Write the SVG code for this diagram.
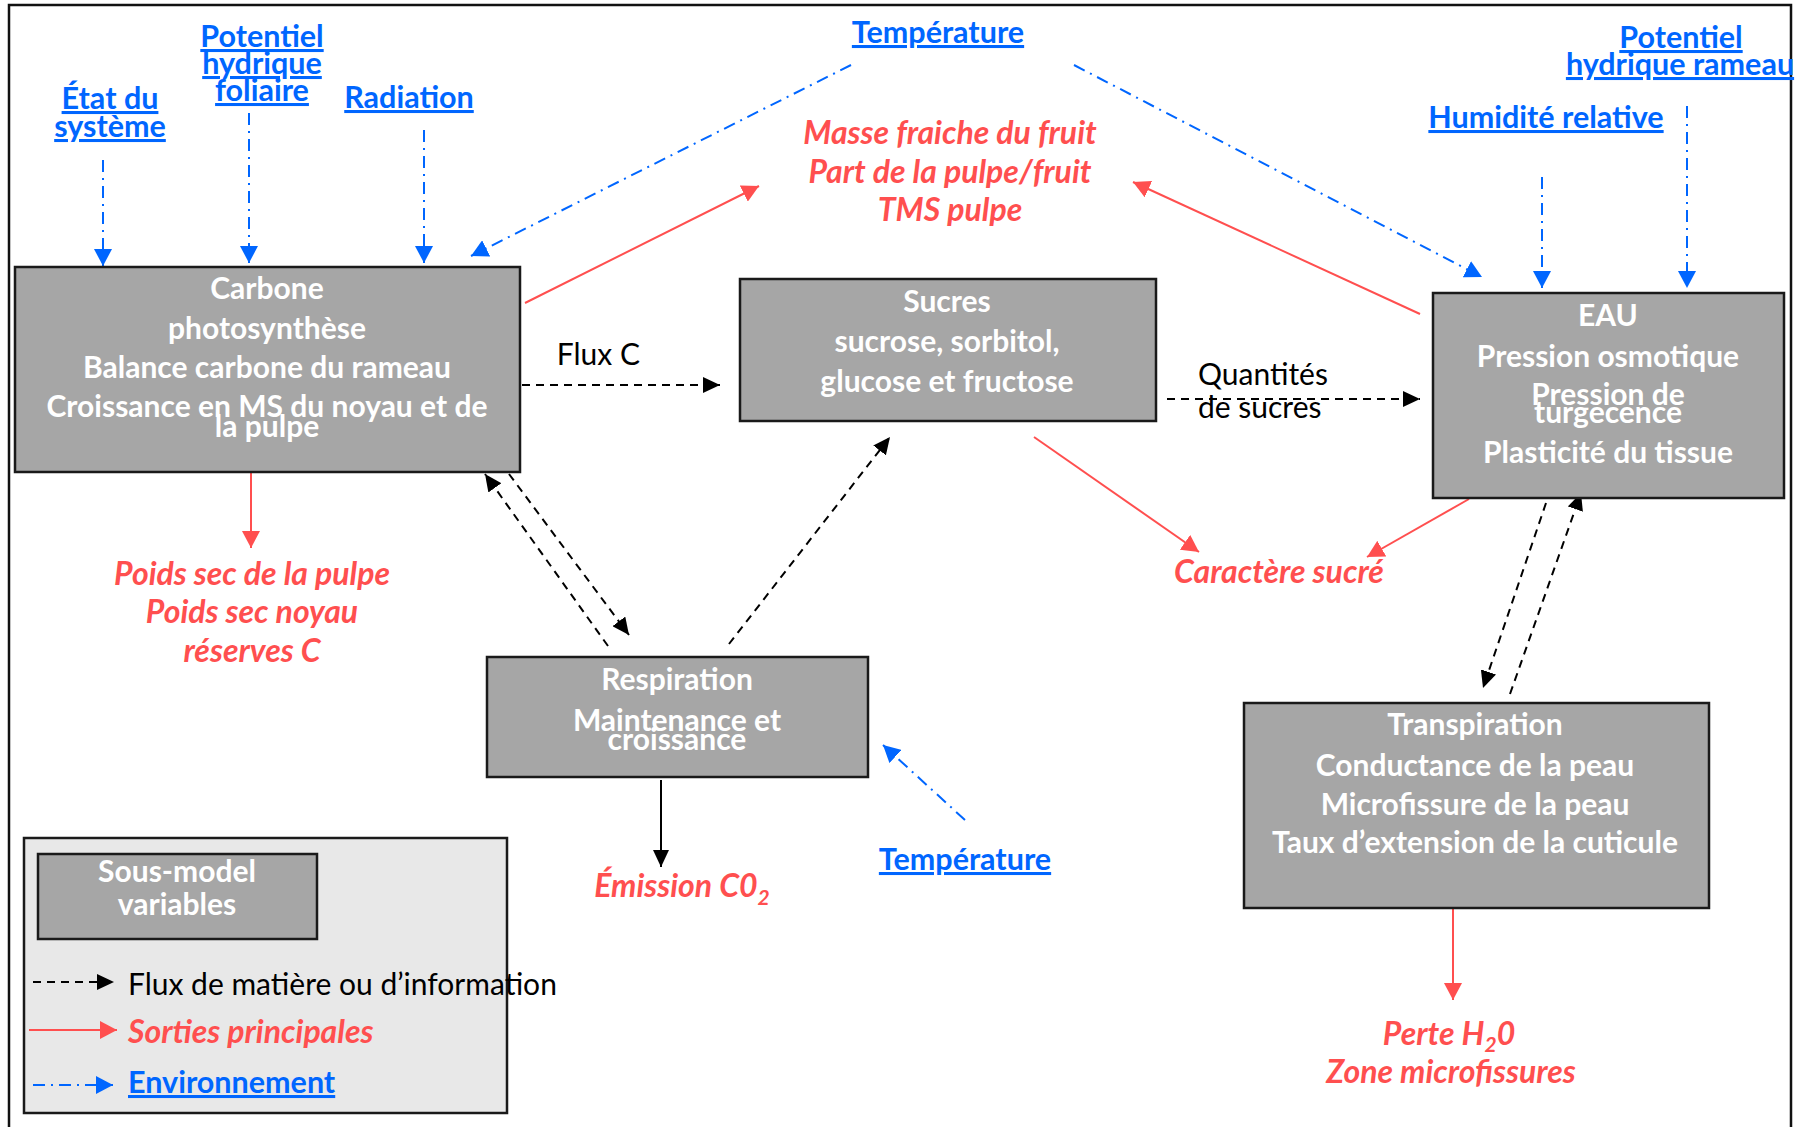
<svg xmlns="http://www.w3.org/2000/svg" width="1798" height="1127" viewBox="0 0 1798 1127">
<style>
 text { font-family: Lato, 'Liberation Sans', sans-serif; font-size: 30px; }
 .w { fill: #ffffff; font-weight: 700; text-anchor: middle; }
 .r { fill: #ff4f4f; font-weight: 700; font-style: italic; text-anchor: middle; font-size: 32px; }
 .b { fill: #0066ff; font-weight: 700; text-anchor: middle; text-decoration: underline; font-size: 30.5px; }
 .k { fill: #000000; font-weight: 400; }
 .st { text-anchor: start; }
 .box { fill: #a6a6a6; stroke: #1a1a1a; stroke-width: 2.5; }
 .cb { stroke: #0066ff; stroke-width: 2; stroke-dasharray: 12 6 2 6; fill: none; marker-end: url(#ab); }
 .cr { stroke: #ff4f4f; stroke-width: 2; fill: none; marker-end: url(#ar); }
 .ck { stroke: #000000; stroke-width: 2; stroke-dasharray: 8 6; fill: none; marker-end: url(#ak); }
 .cs { stroke: #000000; stroke-width: 2; fill: none; marker-end: url(#ak); }
</style>
<defs>
 <marker id="ak" markerUnits="userSpaceOnUse" markerWidth="18" markerHeight="16" refX="17" refY="8" orient="auto"><path d="M0,0 L17,8 L0,16 z" fill="#000000"/></marker>
 <marker id="ab" markerUnits="userSpaceOnUse" markerWidth="18" markerHeight="18" refX="17" refY="9" orient="auto"><path d="M0,0 L17,9 L0,18 z" fill="#0066ff"/></marker>
 <marker id="ar" markerUnits="userSpaceOnUse" markerWidth="18" markerHeight="18" refX="17" refY="9" orient="auto"><path d="M0,0 L17,9 L0,18 z" fill="#ff4f4f"/></marker>
</defs>
<rect width="1798" height="1127" fill="#ffffff"/>
<path d="M9,1127 V5 H1791 V1127" fill="none" stroke="#111111" stroke-width="2.5"/>

<g id="connectors">
 <line class="cb" x1="103" y1="160" x2="103" y2="266"/>
 <line class="cb" x1="249" y1="113" x2="249" y2="263"/>
 <line class="cb" x1="424" y1="130" x2="424" y2="263"/>
 <line class="cb" x1="851" y1="65" x2="471" y2="256"/>
 <line class="cb" x1="1074" y1="65" x2="1482" y2="277"/>
 <line class="cb" x1="1542" y1="177" x2="1542" y2="288"/>
 <line class="cb" x1="1687" y1="106" x2="1687" y2="288"/>
 <line class="cb" x1="965" y1="820" x2="883" y2="745"/>
 <line class="cr" x1="525" y1="303" x2="759" y2="186"/>
 <line class="cr" x1="1420" y1="314" x2="1133" y2="182"/>
 <line class="cr" x1="251" y1="471" x2="251" y2="548"/>
 <line class="cr" x1="1034" y1="437" x2="1199" y2="552"/>
 <line class="cr" x1="1469" y1="499" x2="1367" y2="557"/>
 <line class="cr" x1="1453" y1="908" x2="1453" y2="1000"/>
 <line class="ck" x1="522" y1="385" x2="720" y2="385"/>
 <line class="ck" x1="1167" y1="399" x2="1420" y2="399"/>
 <line class="ck" x1="608" y1="646" x2="485" y2="474"/>
 <line class="ck" x1="509" y1="474" x2="629" y2="635"/>
 <line class="ck" x1="729" y1="644" x2="890" y2="437"/>
 <line class="ck" x1="1546" y1="503" x2="1483" y2="688"/>
 <line class="ck" x1="1510" y1="694" x2="1581" y2="493"/>
 <line class="cs" x1="661" y1="780" x2="661" y2="867"/>
</g>

<g id="carbone">
 <rect class="box" x="15" y="267" width="505" height="205"/>
 <text class="w" x="267" y="299">Carbone</text>
 <text class="w" x="267" y="339">photosynthèse</text>
 <text class="w" x="267" y="378">Balance carbone du rameau</text>
 <text class="w" x="267" y="417">Croissance en MS du noyau et de</text>
 <text class="w" x="267" y="437">la pulpe</text>
</g>

<g id="sucres">
 <rect class="box" x="740" y="279" width="416" height="142"/>
 <text class="w" x="947" y="312">Sucres</text>
 <text class="w" x="947" y="352">sucrose, sorbitol,</text>
 <text class="w" x="947" y="392">glucose et fructose</text>
</g>

<g id="eau">
 <rect class="box" x="1433" y="293" width="351" height="205"/>
 <text class="w" x="1608" y="326">EAU</text>
 <text class="w" x="1608" y="367">Pression osmotique</text>
 <text class="w" x="1608" y="405">Pression de</text>
 <text class="w" x="1608" y="423">turgecence</text>
 <text class="w" x="1608" y="463">Plasticité du tissue</text>
</g>

<g id="respiration">
 <rect class="box" x="487" y="657" width="381" height="120"/>
 <text class="w" x="677" y="690">Respiration</text>
 <text class="w" x="677" y="731">Maintenance et</text>
 <text class="w" x="677" y="750">croissance</text>
</g>

<g id="transpiration">
 <rect class="box" x="1244" y="703" width="465" height="205"/>
 <text class="w" x="1475" y="735">Transpiration</text>
 <text class="w" x="1475" y="776">Conductance de la peau</text>
 <text class="w" x="1475" y="815">Microfissure de la peau</text>
 <text class="w" x="1475" y="853">Taux d’extension de la cuticule</text>
</g>

<g id="env-etat"><text class="b" x="110" y="109">État du</text><text class="b" x="110" y="137">système</text></g>
<g id="env-potentiel-foliaire"><text class="b" x="262" y="47">Potentiel</text><text class="b" x="262" y="74">hydrique</text><text class="b" x="262" y="101">foliaire</text></g>
<g id="env-radiation"><text class="b" x="409" y="108">Radiation</text></g>
<g id="env-temperature-top"><text class="b" x="938" y="43">Température</text></g>
<g id="env-potentiel-rameau"><text class="b" x="1681" y="48">Potentiel</text><text class="b" x="1680" y="75">hydrique rameau</text></g>
<g id="env-humidite"><text class="b" x="1546" y="128">Humidité relative</text></g>
<g id="env-temperature-bottom"><text class="b" x="965" y="870">Température</text></g>

<g id="out-masse">
 <text class="r" x="950" y="144">Masse fraiche du fruit</text>
 <text class="r" x="950" y="183">Part de la pulpe/fruit</text>
 <text class="r" x="950" y="221">TMS pulpe</text>
</g>
<g id="out-poids">
 <text class="r" x="252" y="585">Poids sec de la pulpe</text>
 <text class="r" x="252" y="623">Poids sec noyau</text>
 <text class="r" x="252" y="662">réserves C</text>
</g>
<g id="out-caractere"><text class="r" x="1279" y="583">Caractère sucré</text></g>
<g id="out-emission"><text class="r" x="682" y="897">Émission C0<tspan font-size="21" dy="8">2</tspan></text></g>
<g id="out-perte">
 <text class="r" x="1449" y="1045">Perte H<tspan font-size="21" dy="7">2</tspan><tspan dy="-7">0</tspan></text>
 <text class="r" x="1451" y="1083">Zone microfissures</text>
</g>

<g id="label-flux"><text class="k" x="640" y="365" text-anchor="end">Flux C</text></g>
<g id="label-quantites"><text class="k" x="1198" y="385">Quantités</text><text class="k" x="1198" y="418">de sucres</text></g>

<g id="legend">
 <rect x="24" y="838" width="483" height="275" fill="#e8e8e8" stroke="#1a1a1a" stroke-width="2.5"/>
 <rect class="box" x="38" y="854" width="279" height="85"/>
 <text class="w" x="177" y="882">Sous-model</text>
 <text class="w" x="177" y="915">variables</text>
 <line class="ck" x1="33" y1="982" x2="114" y2="982"/>
 <text class="k" x="128" y="995">Flux de matière ou d’information</text>
 <line class="cr" x1="29" y1="1030" x2="117" y2="1030"/>
 <text class="r st" x="128" y="1043">Sorties principales</text>
 <line class="cb" x1="33" y1="1085" x2="113" y2="1085"/>
 <text class="b st" x="128" y="1093">Environnement</text>
</g>
</svg>
